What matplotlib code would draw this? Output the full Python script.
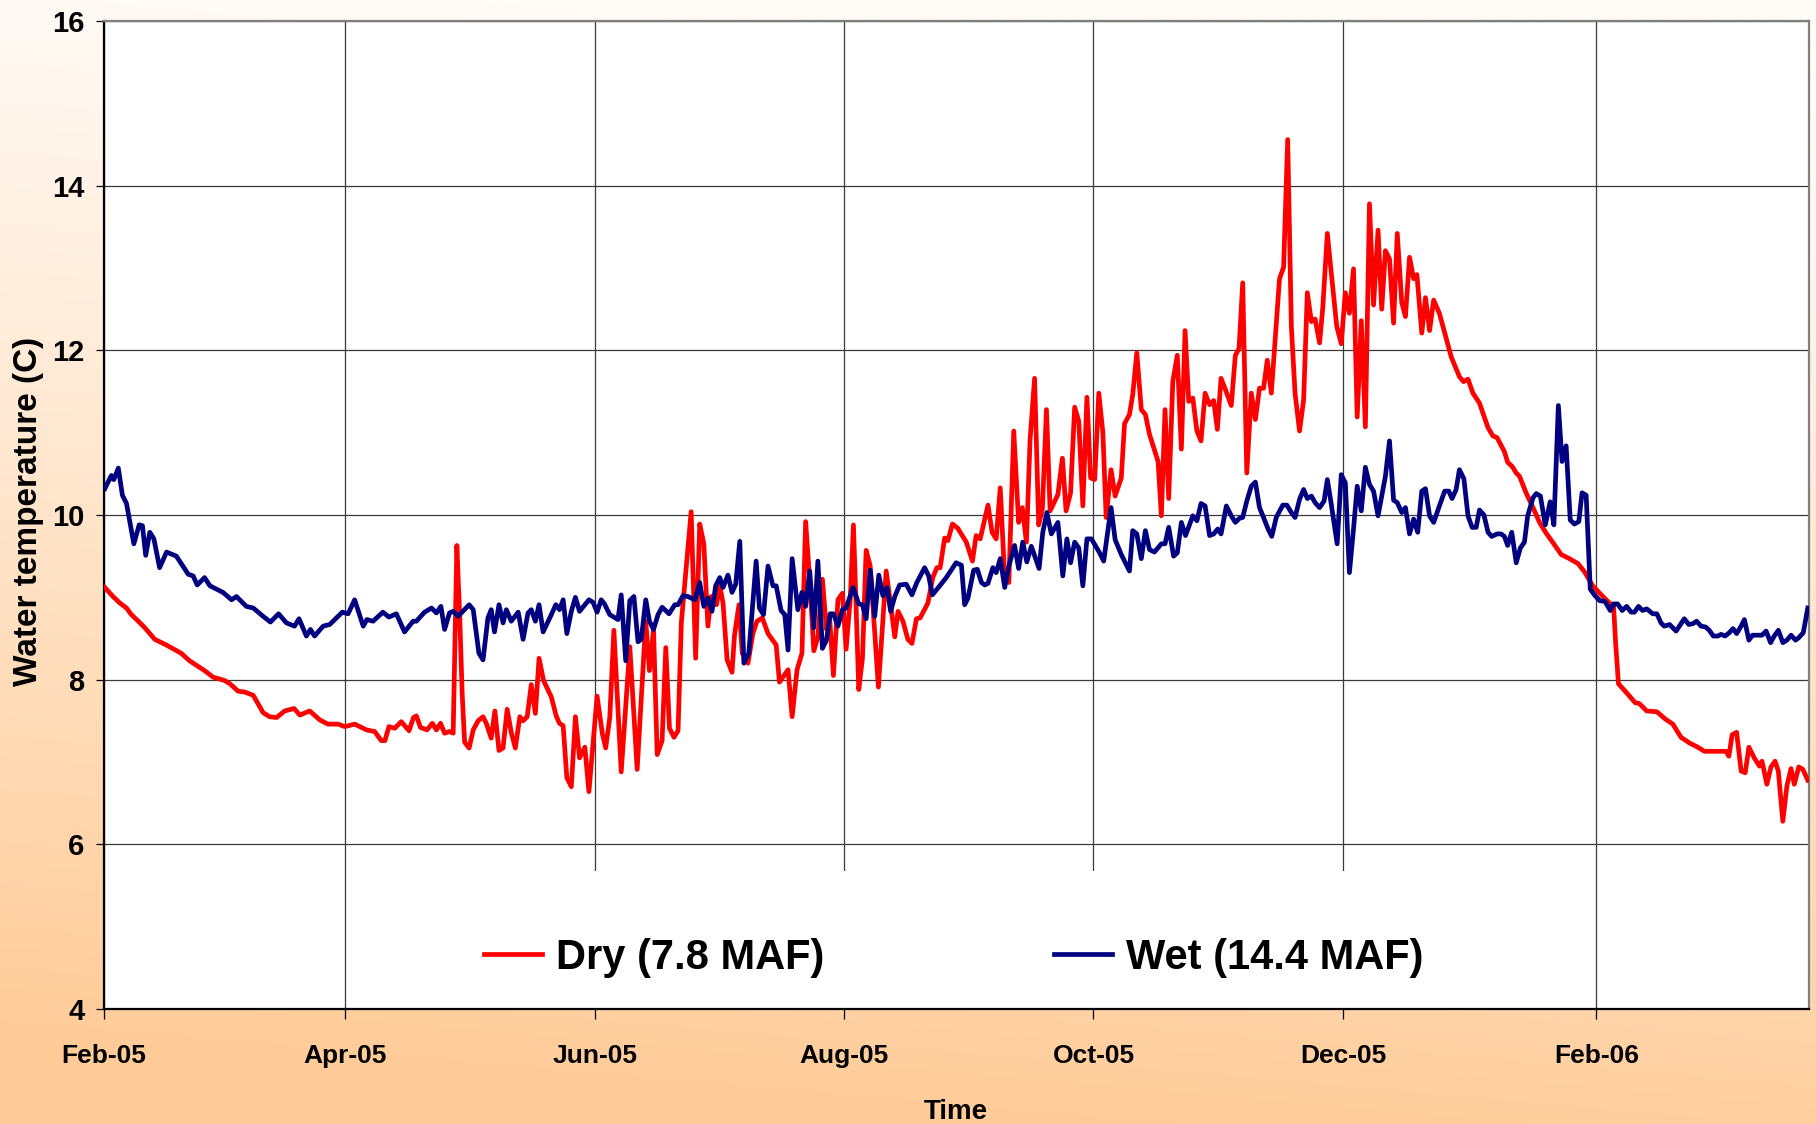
import numpy as np
import pandas as pd
import matplotlib
matplotlib.use("Agg")
import matplotlib.pyplot as plt
import matplotlib.dates as mdates
import matplotlib.font_manager as fm
from matplotlib.patches import Rectangle

# ---------------- data (days after 1 Feb 2005, water temperature in C) -------------
start_date = "2005-02-01"
end_day = 417

dry_days = [0.2, 2.2, 3.9, 5.5, 6.7, 8.8, 10.0, 12.4, 15.3, 18.9, 20.9, 24.6, 26.7, 29.5, 30.8, 32.8, 34.4, 36.5,
            38.9, 40.5, 42.2, 44.2, 46.5, 47.9, 50.3, 52.8, 54.8, 57.2, 58.9, 61.3, 64.2, 66.2, 67.8, 68.7, 69.7,
            71.1, 72.7, 74.6, 75.7, 76.4, 77.4, 79.0, 80.3, 81.3, 82.3, 83.3, 84.5, 85.4, 86.3, 87.0, 87.6, 88.2,
            89.3, 90.3, 91.5, 92.7, 93.5, 94.7, 95.6, 96.6, 97.6, 98.6, 99.6, 100.6, 101.7, 102.5, 103.5, 104.5,
            105.5, 106.4, 107.5, 109.4, 110.6, 111.4, 112.3, 113.2, 114.3, 115.3, 116.3, 117.6, 118.6, 120.6,
            121.9, 122.7, 123.7, 124.7, 126.5, 128.6, 130.4, 132.5, 133.4, 134.4, 135.3, 136.5, 137.4, 138.3,
            139.4, 140.4, 141.2, 143.6, 144.7, 145.7, 146.7, 147.7, 148.5, 149.8, 150.6, 151.4, 152.4, 153.6,
            154.2, 155.3, 156.1, 157.5, 158.7, 159.7, 161.0, 162.4, 164.4, 165.2, 167.3, 168.3, 169.5, 170.7,
            171.6, 172.7, 173.6, 174.6, 175.7, 176.7, 177.5, 178.4, 179.5, 180.6, 181.5, 182.5, 183.3, 184.6,
            185.5, 186.4, 187.4, 188.3, 189.4, 191.3, 192.4, 193.4, 194.2, 195.4, 196.6, 197.6, 198.7, 199.6,
            201.5, 202.7, 203.7, 204.5, 205.6, 206.4, 207.5, 208.8, 210.9, 212.4, 213.3, 214.3, 216.2, 217.2,
            218.2, 219.2, 220.3, 221.3, 222.5, 223.7, 224.6, 225.6, 226.5, 227.6, 228.6, 229.5, 230.5, 231.4,
            233.3, 234.4, 235.3, 236.4, 237.4, 238.4, 239.4, 240.4, 241.3, 242.3, 243.3, 244.3, 245.1, 246.3,
            247.3, 248.8, 249.6, 250.8, 251.6, 252.6, 253.7, 254.7, 255.7, 257.8, 258.6, 259.5, 260.4, 261.4,
            262.5, 263.5, 264.4, 265.3, 266.3, 267.3, 268.3, 269.3, 270.4, 271.4, 272.3, 273.2, 274.3, 275.7,
            276.7, 277.6, 278.5, 279.5, 280.6, 281.6, 282.6, 283.6, 284.5, 285.5, 287.5, 288.5, 289.5, 290.4,
            291.3, 292.4, 293.4, 294.3, 295.3, 296.2, 297.3, 298.1, 299.2, 300.1, 301.5, 302.6, 303.6, 304.6,
            305.6, 306.5, 307.5, 308.5, 309.5, 310.5, 311.6, 312.5, 313.4, 314.4, 315.4, 316.3, 317.4, 318.3,
            319.3, 320.3, 321.1, 322.3, 323.2, 324.2, 325.2, 326.6, 329.5, 331.5, 332.5, 333.6, 334.8, 336.4,
            338.5, 339.7, 340.7, 342.5, 343.3, 344.4, 345.4, 346.2, 347.8, 349.5, 351.1, 352.7, 354.3, 356.4,
            358.4, 360.5, 362.1, 364.1, 366.6, 368.2, 369.2, 369.7, 370.4, 372.4, 374.5, 375.5, 377.3, 379.8,
            381.9, 383.7, 385.7, 387.8, 389.8, 391.4, 396.7, 397.4, 398.2, 399.3, 400.4, 401.4, 402.3, 403.6,
            404.9, 405.5, 406.7, 407.7, 408.7, 409.5, 410.6, 411.6, 412.6, 413.4, 414.5, 415.5, 416.7]
dry_temp = [9.12, 9.01, 8.93, 8.87, 8.79, 8.69, 8.63, 8.49, 8.42, 8.32, 8.23, 8.11, 8.03, 7.99, 7.95, 7.86, 7.85, 7.81,
            7.60, 7.55, 7.54, 7.62, 7.65, 7.57, 7.62, 7.51, 7.46, 7.46, 7.43, 7.46, 7.39, 7.37, 7.26, 7.26, 7.43,
            7.41, 7.49, 7.38, 7.54, 7.56, 7.42, 7.39, 7.47, 7.39, 7.47, 7.35, 7.37, 7.35, 9.63, 8.77, 7.83, 7.24,
            7.17, 7.39, 7.50, 7.55, 7.47, 7.29, 7.62, 7.14, 7.17, 7.64, 7.36, 7.17, 7.55, 7.50, 7.55, 7.94,
            7.59, 8.26, 7.99, 7.79, 7.56, 7.47, 7.44, 6.81, 6.70, 7.55, 7.05, 7.18, 6.64, 7.80,
            7.34, 7.17, 7.54, 8.60, 6.88, 8.40, 6.91, 8.71, 8.11, 8.61, 7.09, 7.26, 8.39, 7.41,
            7.30, 7.38, 8.69, 10.04, 8.26, 9.89, 9.65, 8.65, 9.01, 8.91, 9.14, 8.93, 8.24, 8.09,
            8.54, 8.91, 8.32, 8.20, 8.56, 8.71, 8.75, 8.56, 8.42, 7.97, 8.12, 7.55, 8.12, 8.32,
            9.92, 9.14, 8.35, 8.52, 9.22, 8.61, 8.73, 8.05, 8.97, 9.05, 8.37, 8.97, 9.88, 7.88,
            8.26, 9.57, 9.38, 8.71, 7.91, 9.32, 8.91, 8.52, 8.83, 8.71, 8.49, 8.44, 8.74, 8.75,
            8.93, 9.24, 9.36, 9.36, 9.72, 9.69, 9.89, 9.84, 9.67, 9.44, 9.75, 9.71, 10.12, 9.79,
            9.71, 10.33, 9.22, 9.18, 11.02, 9.91, 10.09, 9.67, 10.92, 11.66, 9.88, 10.07, 11.28, 10.05,
            10.25, 10.69, 10.05, 10.27, 11.31, 11.14, 10.11, 11.43, 10.45, 10.43, 11.48, 11.00, 9.97, 10.55,
            10.23, 10.45, 11.11, 11.22, 11.46, 11.97, 11.28, 11.22, 10.98, 10.65, 9.99, 11.28, 10.20, 11.62,
            11.94, 10.80, 12.24, 11.38, 11.42, 11.02, 10.90, 11.48, 11.34, 11.39, 11.04, 11.66, 11.52, 11.33,
            11.94, 12.02, 12.82, 10.51, 11.48, 11.16, 11.54, 11.54, 11.88, 11.48, 12.87, 13.01, 14.56, 12.29,
            11.48, 11.02, 11.40, 12.70, 12.35, 12.38, 12.09, 12.53, 13.42, 12.97, 12.29, 12.08, 12.70, 12.45,
            12.99, 11.19, 12.36, 11.07, 13.78, 12.55, 13.46, 12.50, 13.21, 13.11, 12.33, 13.42, 12.58, 12.41,
            13.13, 12.87, 12.92, 12.21, 12.64, 12.24, 12.61, 12.45, 11.92, 11.68, 11.62, 11.65, 11.48, 11.36,
            11.06, 10.96, 10.94, 10.77, 10.64, 10.59, 10.51, 10.47, 10.27, 10.09, 9.91, 9.78, 9.67, 9.52,
            9.47, 9.41, 9.31, 9.14, 9.01, 8.93, 8.90, 8.45, 7.95, 7.84, 7.72, 7.71, 7.62, 7.61,
            7.52, 7.46, 7.30, 7.23, 7.18, 7.13, 7.13, 7.07, 7.33, 7.36, 6.89, 6.87, 7.18, 7.05,
            6.95, 7.01, 6.73, 6.94, 7.01, 6.89, 6.28, 6.71, 6.92, 6.73, 6.94, 6.91, 6.78]

wet_days = [0.2, 1.8, 2.4, 3.5, 4.5, 5.5, 7.3, 8.6, 9.4, 10.2, 11.2, 12.2, 13.6, 15.3, 17.7, 20.6, 21.8, 22.8, 24.6,
            25.9, 29.1, 31.2, 32.4, 34.8, 36.5, 38.9, 40.7, 42.7, 44.6, 46.6, 47.7, 49.5, 50.5, 51.5, 53.6, 55.2,
            58.3, 59.7, 61.3, 63.4, 64.3, 65.8, 68.2, 69.7, 71.5, 73.5, 75.6, 76.4, 78.4, 80.1, 81.3, 82.4, 83.3,
            84.5, 85.4, 86.6, 89.3, 90.3, 91.7, 92.7, 93.9, 94.7, 95.5, 96.6, 97.6, 98.4, 99.6, 101.3, 102.5,
            103.7, 104.5, 105.5, 106.4, 107.4, 109.4, 110.5, 111.4, 112.3, 113.2, 114.3, 115.3, 116.3, 118.6,
            119.6, 120.6, 121.6, 122.4, 123.7, 125.7, 126.5, 127.6, 128.6, 129.6, 130.6, 131.4, 132.5, 133.4,
            134.4, 135.5, 136.5, 138.2, 139.6, 140.4, 141.6, 142.8, 144.5, 145.7, 146.7, 147.7, 148.7, 149.6,
            150.6, 151.4, 152.6, 153.6, 154.5, 155.5, 156.5, 157.7, 159.5, 160.3, 161.3, 162.4, 163.6, 164.4,
            165.6, 166.5, 167.3, 168.3, 169.7, 170.7, 171.6, 172.6, 173.6, 174.6, 175.7, 176.7, 177.6, 178.4,
            179.5, 180.6, 181.5, 183.2, 184.6, 185.5, 186.4, 187.4, 188.5, 189.5, 190.5, 191.5, 192.4, 193.4,
            194.6, 196.2, 197.6, 198.8, 200.7, 201.7, 202.6, 204.4, 206.0, 208.4, 209.7, 210.5, 211.3, 212.7,
            213.6, 214.6, 215.4, 216.2, 217.4, 218.2, 219.2, 220.3, 221.3, 222.7, 223.7, 224.7, 225.7, 226.8,
            228.7, 229.6, 230.6, 231.7, 233.3, 234.5, 235.5, 236.4, 237.4, 238.4, 239.4, 240.4, 241.5, 243.5,
            244.5, 246.3, 247.3, 248.8, 250.8, 251.6, 252.6, 253.7, 254.7, 255.7, 256.9, 258.6, 259.5, 260.4,
            261.6, 262.5, 263.5, 264.5, 266.3, 267.3, 268.3, 269.3, 270.4, 271.4, 272.4, 273.2, 274.5, 275.7,
            276.7, 277.7, 278.5, 279.5, 280.6, 281.6, 282.6, 283.6, 284.7, 285.6, 286.7, 288.3, 289.3, 290.4,
            291.3, 292.4, 293.4, 294.3, 295.3, 296.2, 297.3, 298.4, 299.2, 300.1, 301.6, 302.6, 303.6, 304.6,
            305.6, 306.5, 307.5, 308.5, 309.5, 310.5, 311.6, 313.4, 314.4, 315.4, 316.3, 317.4, 318.3, 319.3,
            320.3, 321.3, 322.3, 323.2, 324.2, 325.2, 326.6, 327.9, 328.9, 329.7, 330.7, 331.5, 332.6, 333.6,
            334.6, 335.6, 336.4, 337.5, 338.5, 339.4, 340.7, 341.7, 342.5, 343.3, 344.3, 345.4, 346.4, 347.4,
            348.2, 349.5, 350.3, 351.3, 352.5, 353.7, 354.6, 355.7, 356.6, 357.6, 358.6, 359.6, 360.7, 361.5,
            362.5, 363.5, 364.5, 365.8, 367.1, 368.4, 369.2, 370.2, 371.3, 372.4, 373.5, 374.3, 375.3, 376.3,
            377.3, 378.8, 379.8, 380.8, 381.6, 382.9, 384.5, 385.3, 386.5, 387.6, 388.6, 389.5, 390.6, 391.7,
            392.6, 393.6, 394.7, 395.5, 396.5, 397.5, 398.4, 399.3, 400.4, 401.2, 402.3, 403.2, 405.5, 406.5,
            407.6, 408.5, 409.5, 410.6, 411.6, 412.6, 413.7, 414.5, 415.6, 416.7]
wet_temp = [10.32, 10.48, 10.43, 10.57, 10.24, 10.14, 9.65, 9.88, 9.87, 9.51, 9.79, 9.71, 9.36, 9.55, 9.50, 9.28, 9.26,
            9.15, 9.24, 9.14, 9.06, 8.97, 9.01, 8.89, 8.87, 8.77, 8.70, 8.80, 8.69, 8.65, 8.74, 8.53, 8.61, 8.53,
            8.65, 8.67, 8.82, 8.80, 8.97, 8.65, 8.73, 8.71, 8.82, 8.76, 8.80, 8.58, 8.71, 8.71, 8.82, 8.87, 8.81,
            8.89, 8.61, 8.81, 8.83, 8.77, 8.91, 8.85, 8.32, 8.24, 8.75, 8.85, 8.58, 8.91, 8.69, 8.85, 8.71, 8.82,
            8.49, 8.81, 8.85, 8.71, 8.91, 8.58, 8.79, 8.91, 8.85, 8.97, 8.56, 8.83, 9.00, 8.83, 8.97, 8.94, 8.82,
            8.97, 8.92, 8.79, 8.73, 9.03, 8.23, 8.96, 9.01, 8.46, 8.49, 8.97, 8.71, 8.61, 8.79, 8.88, 8.80, 8.91,
            8.91, 9.02, 9.01, 8.97, 9.18, 8.89, 8.99, 8.83, 9.14, 9.24, 9.12, 9.27, 9.06, 9.16, 9.68, 8.20, 8.32,
            9.44, 8.87, 8.79, 9.38, 9.14, 9.14, 8.84, 8.79, 8.36, 9.47, 8.85, 9.06, 8.89, 9.32, 8.63, 9.44, 8.38,
            8.48, 8.80, 8.80, 8.65, 8.85, 8.87, 9.12, 8.92, 8.91, 8.74, 9.33, 8.77, 9.27, 9.02, 9.12, 8.83, 9.01,
            9.15, 9.16, 9.03, 9.18, 9.36, 9.26, 9.03, 9.14, 9.24, 9.42, 9.39, 8.91, 8.99, 9.33, 9.34, 9.18, 9.15,
            9.17, 9.36, 9.30, 9.47, 9.12, 9.38, 9.63, 9.35, 9.67, 9.43, 9.62, 9.35, 9.79, 10.03, 9.77, 9.91, 9.26,
            9.71, 9.42, 9.67, 9.60, 9.14, 9.71, 9.71, 9.54, 9.44, 10.09, 9.70, 9.52, 9.32, 9.81, 9.77, 9.47, 9.81,
            9.58, 9.55, 9.65, 9.65, 9.85, 9.50, 9.54, 9.91, 9.75, 9.99, 9.93, 10.14, 10.11, 9.75, 9.77, 9.83,
            9.77, 10.11, 9.99, 9.91, 9.96, 9.97, 10.17, 10.35, 10.40, 10.09, 9.97, 9.83, 9.74, 9.97, 10.12, 10.12,
            10.03, 9.97, 10.19, 10.31, 10.20, 10.23, 10.15, 10.09, 10.17, 10.43, 10.15, 9.65, 10.49, 10.39, 9.30,
            9.83, 10.35, 10.05, 10.58, 10.37, 10.29, 9.99, 10.47, 10.90, 10.18, 10.15, 10.03, 10.09, 9.77, 9.95,
            9.79, 10.29, 10.32, 9.99, 9.91, 10.11, 10.29, 10.29, 10.20, 10.31, 10.55, 10.44, 9.99, 9.85, 9.85,
            10.06, 10.00, 9.79, 9.74, 9.77, 9.77, 9.74, 9.63, 9.79, 9.42, 9.60, 9.67, 9.99, 10.21, 10.26, 10.23,
            9.88, 10.16, 9.88, 11.33, 10.65, 10.84, 9.94, 9.89, 9.92, 10.27, 10.24, 9.10, 9.03, 8.96, 8.95, 8.84,
            8.92, 8.92, 8.84, 8.89, 8.82, 8.82, 8.89, 8.84, 8.86, 8.80, 8.80, 8.69, 8.65, 8.67, 8.59, 8.65, 8.74,
            8.67, 8.68, 8.71, 8.65, 8.64, 8.60, 8.53, 8.53, 8.55, 8.53, 8.57, 8.62, 8.56, 8.65, 8.73, 8.48, 8.54,
            8.54, 8.59, 8.45, 8.53, 8.60, 8.45, 8.48, 8.54, 8.48, 8.51, 8.57, 8.87]

series_labels = ["Dry (7.8 MAF)", "Wet (14.4 MAF)"]
y_ticks = [4, 6, 8, 10, 12, 14, 16]
x_tick_dates = ["2005-02-01", "2005-04-01", "2005-06-01", "2005-08-01", "2005-10-01", "2005-12-01", "2006-02-01"]
y_label = "Water temperature (C)"
x_label = "Time"

# ---------------- fonts ----------------
names = {f.name for f in fm.fontManager.ttflist}
NARROW = "Liberation Sans Narrow" if "Liberation Sans Narrow" in names else "Liberation Sans"
REG = "Liberation Sans" if "Liberation Sans" in names else "DejaVu Sans"

t0 = pd.Timestamp(start_date)
dry_x = t0 + pd.to_timedelta(np.array(dry_days), unit="D")
wet_x = t0 + pd.to_timedelta(np.array(wet_days), unit="D")

W, H = 1816, 1124
fig = plt.figure(figsize=(W / 100, H / 100), dpi=100)

# background gradient (light top -> peach bottom)
bg = fig.add_axes([0, 0, 1, 1], zorder=-10)
yy = np.linspace(0, 1, 400)[:, None]   # 0 = top
xx = np.linspace(0, 1, 400)[None, :]
t = np.clip(yy * 1.05 + (0.25 - xx) * 0.15, 0, 1)
t = t ** 1.1
top = np.array([255, 251, 247]) / 255
bot = np.array([255, 204, 153]) / 255
img = top[None, None, :] * (1 - t[..., None]) + bot[None, None, :] * t[..., None]
bg.imshow(img, aspect="auto", extent=[0, 1, 0, 1], origin="upper")
bg.set_axis_off()

left, right, topp, bottom = 104, 1809, 21, 1009
ax = fig.add_axes([left / W, 1 - bottom / H, (right - left) / W, (bottom - topp) / H])
ax.set_facecolor("white")

l1, = ax.plot(dry_x, dry_temp, color="#FF0000", lw=3.4, zorder=3, solid_joinstyle="round")
l2, = ax.plot(wet_x, wet_temp, color="#000080", lw=3.4, zorder=3, solid_joinstyle="round")

ax.set_xlim(t0, t0 + pd.Timedelta(days=end_day))
ax.set_ylim(4, 16)
ax.set_yticks(y_ticks)
ax.set_xticks(pd.to_datetime(x_tick_dates))
ax.xaxis.set_major_formatter(mdates.DateFormatter("%b-%y"))

ax.set_axisbelow(True)
ax.grid(True, color="#3a3a3a", lw=0.9)

for lab in ax.get_xticklabels():
    lab.set_fontfamily(NARROW)
    lab.set_fontweight("bold")
    lab.set_fontsize(19)
for lab in ax.get_yticklabels():
    lab.set_fontfamily(NARROW)
    lab.set_fontweight("bold")
    lab.set_fontsize(21)
ax.tick_params(axis="x", direction="out", length=7, width=0.9, pad=18, colors="black")
ax.tick_params(axis="y", direction="out", length=6, width=0.9, pad=8, colors="black")

for s in ["left", "bottom"]:
    ax.spines[s].set_color("black")
    ax.spines[s].set_linewidth(1.6)
for s in ["top", "right"]:
    ax.spines[s].set_color("#808080")
    ax.spines[s].set_linewidth(1.6)

# white legend panel covering lower grid
ax.add_patch(Rectangle((0.148, 0.0), 0.691, 0.14, transform=ax.transAxes,
                       facecolor="white", edgecolor="none", zorder=1))

leg = ax.legend([l1, l2], series_labels, ncol=2, loc="center left",
                bbox_to_anchor=((484 - left) / (right - left), 0.052),
                frameon=False, prop={"family": NARROW, "weight": "bold", "size": 30},
                handlelength=1.39, handletextpad=0.34, columnspacing=5.5,
                borderpad=0, borderaxespad=0)
leg.set_zorder(5)

fig.text(29 / W, 1 - 511 / H, y_label, rotation=90, ha="center", va="center",
         fontsize=24, fontweight="bold", family=REG)
fig.text(956 / W, 1 - 1112 / H, x_label, ha="center", va="center",
         fontsize=20, fontweight="bold", family=NARROW)

fig.savefig("out.png", dpi=100)
